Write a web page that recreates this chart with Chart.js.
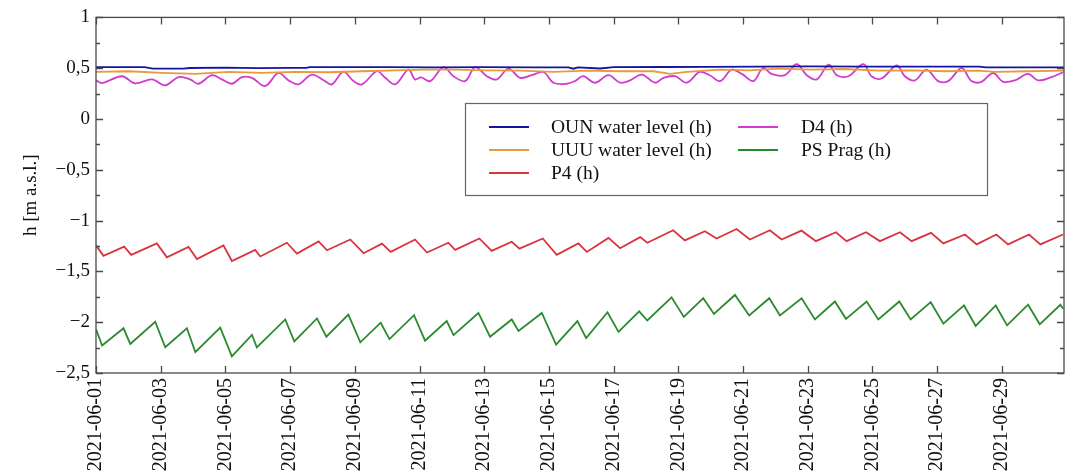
<!DOCTYPE html>
<html>
<head>
<meta charset="utf-8">
<title>Water levels, June 2021</title>
<script src="https://cdn.jsdelivr.net/npm/chart.js@4.4.1/dist/chart.umd.min.js"></script>
<style>
  html, body { margin: 0; padding: 0; background: #fff; }
  #wrap { width: 1082px; height: 473px; }
</style>
</head>
<body>
<div id="wrap"><canvas id="levels"></canvas></div>
<script>
// days since 2021-06-01 00:00 and level h [m a.s.l.] for each gauge
const startDate = Date.UTC(2021, 5, 1);
const lastDay = 29.92;

const ounDays = [0, 1.5, 1.75, 2.7, 2.9, 4, 5, 6, 6.5, 6.6, 7.5, 9, 10.5, 12, 13.5, 14.6, 14.75, 14.9, 15.58, 16, 17.5, 19, 20.5, 22, 24, 26, 27.3, 27.5, 29, 29.92];
const ounLevel = [0.511, 0.511, 0.495, 0.495, 0.502, 0.505, 0.500, 0.503, 0.503, 0.511, 0.511, 0.511, 0.509, 0.511, 0.508, 0.508, 0.495, 0.508, 0.497, 0.511, 0.512, 0.513, 0.515, 0.518, 0.515, 0.515, 0.515, 0.508, 0.508, 0.508];

const uuuDays = [0, 1.01, 2.04, 3.07, 4.1, 5.13, 6.16, 7.19, 8.22, 9.25, 10.17, 11.05, 12.08, 13.11, 14.14, 15.17, 16.2, 17.23, 17.75, 18.26, 19.29, 20.21, 21.09, 22.12, 23.15, 24.18, 25.21, 26.24, 27.27, 27.79, 28.81, 29.92];
const uuuLevel = [0.463, 0.470, 0.454, 0.444, 0.463, 0.454, 0.463, 0.460, 0.470, 0.479, 0.486, 0.486, 0.479, 0.476, 0.463, 0.476, 0.470, 0.470, 0.444, 0.463, 0.486, 0.479, 0.495, 0.486, 0.492, 0.476, 0.479, 0.470, 0.476, 0.463, 0.470, 0.476];

const p4Days = [0, 0.23, 0.87, 1.09, 1.88, 2.19, 2.86, 3.12, 3.94, 4.2, 4.92, 5.08, 5.9, 6.21, 6.88, 7.14, 7.86, 8.27, 8.84, 9.11, 9.86, 10.23, 10.89, 11.1, 11.85, 12.23, 12.85, 13.09, 13.81, 14.24, 14.91, 15.17, 15.84, 16.2, 16.82, 17.04, 17.84, 18.2, 18.82, 19.18, 19.8, 20.21, 20.83, 21.19, 21.81, 22.25, 22.87, 23.2, 23.8, 24.23, 24.85, 25.21, 25.81, 26.19, 26.86, 27.22, 27.83, 28.19, 28.84, 29.19, 29.89];
const p4Level = [-1.244, -1.347, -1.256, -1.337, -1.224, -1.362, -1.259, -1.379, -1.244, -1.398, -1.288, -1.353, -1.218, -1.324, -1.205, -1.292, -1.186, -1.321, -1.227, -1.308, -1.186, -1.314, -1.218, -1.288, -1.176, -1.298, -1.208, -1.276, -1.176, -1.337, -1.224, -1.308, -1.170, -1.272, -1.163, -1.218, -1.095, -1.195, -1.105, -1.176, -1.083, -1.186, -1.095, -1.186, -1.099, -1.202, -1.115, -1.202, -1.115, -1.202, -1.115, -1.202, -1.121, -1.224, -1.137, -1.234, -1.137, -1.234, -1.137, -1.234, -1.137];

const d4Days = [0, 0.19, 0.80, 1.21, 1.73, 2.14, 2.55, 2.91, 3.17, 3.58, 3.89, 4.2, 4.51, 4.82, 5.23, 5.64, 5.95, 6.26, 6.67, 7.08, 7.29, 7.65, 7.96, 8.22, 8.68, 8.94, 9.25, 9.66, 9.86, 10.05, 10.33, 10.74, 11.05, 11.41, 11.72, 12.08, 12.39, 12.75, 13.11, 13.52, 13.83, 14.14, 14.55, 14.8, 15.06, 15.42, 15.84, 16.2, 16.51, 16.87, 17.28, 17.54, 17.9, 18.26, 18.66, 18.97, 19.29, 19.65, 19.96, 20.32, 20.62, 20.88, 21.29, 21.66, 21.97, 22.28, 22.64, 22.9, 23.25, 23.72, 23.97, 24.28, 24.75, 25.0, 25.31, 25.67, 26.03, 26.34, 26.76, 27.06, 27.37, 27.73, 28.04, 28.4, 28.81, 29.12, 29.53, 29.89];
const d4Level = [0.380, 0.354, 0.421, 0.351, 0.390, 0.332, 0.412, 0.390, 0.347, 0.431, 0.390, 0.347, 0.412, 0.405, 0.325, 0.453, 0.380, 0.341, 0.437, 0.373, 0.341, 0.463, 0.373, 0.341, 0.470, 0.405, 0.341, 0.486, 0.390, 0.410, 0.373, 0.511, 0.421, 0.373, 0.511, 0.421, 0.390, 0.496, 0.405, 0.437, 0.463, 0.357, 0.347, 0.373, 0.421, 0.357, 0.431, 0.357, 0.380, 0.437, 0.357, 0.405, 0.421, 0.357, 0.463, 0.431, 0.373, 0.486, 0.444, 0.373, 0.502, 0.444, 0.431, 0.540, 0.431, 0.390, 0.534, 0.431, 0.421, 0.540, 0.421, 0.399, 0.528, 0.421, 0.380, 0.486, 0.373, 0.373, 0.502, 0.373, 0.366, 0.453, 0.366, 0.380, 0.444, 0.380, 0.412, 0.460];

const psDays = [0, 0.19, 0.85, 1.06, 1.83, 2.14, 2.81, 3.07, 3.84, 4.2, 4.82, 4.97, 5.85, 6.13, 6.83, 7.12, 7.8, 8.17, 8.8, 9.07, 9.83, 10.17, 10.84, 11.05, 11.82, 12.18, 12.85, 13.06, 13.78, 14.22, 14.88, 15.15, 15.81, 16.15, 16.79, 17.04, 17.79, 18.17, 18.77, 19.1, 19.75, 20.19, 20.81, 21.14, 21.81, 22.22, 22.84, 23.18, 23.82, 24.18, 24.83, 25.18, 25.8, 26.19, 26.83, 27.19, 27.81, 28.16, 28.81, 29.17, 29.81, 29.89];
const psLevel = [-2.069, -2.230, -2.060, -2.214, -1.996, -2.247, -2.060, -2.295, -2.054, -2.336, -2.124, -2.247, -1.973, -2.189, -1.963, -2.143, -1.925, -2.198, -2.005, -2.166, -1.931, -2.182, -1.989, -2.127, -1.909, -2.143, -1.973, -2.086, -1.909, -2.220, -1.989, -2.156, -1.902, -2.095, -1.893, -1.983, -1.755, -1.948, -1.764, -1.919, -1.732, -1.934, -1.764, -1.934, -1.764, -1.973, -1.796, -1.967, -1.796, -1.973, -1.796, -1.973, -1.803, -2.015, -1.835, -2.037, -1.835, -2.031, -1.828, -2.021, -1.828, -1.867];

const seriesNames = ['OUN water level (h)', 'UUU water level (h)', 'P4 (h)', 'D4 (h)', 'PS Prag (h)'];
const seriesColors = ['#14149e', '#e89a3c', '#d8343e', '#d03cd0', '#2a8a2e'];

const yTicks = [-2.5, -2, -1.5, -1, -0.5, 0, 0.5, 1];

function toPoints(days, level) {
    return days.map((d, i) => ({ x: d, y: level[i] }));
}

function dayLabel(v) {
    return new Date(startDate + v * 86400000).toISOString().slice(0, 10);
}

function levelLabel(v) {
    return String(v).replace('.', ',').replace('-', '\u2212');
}

const serif = 'Liberation Serif, Times New Roman, serif';

// frame with inward ticks on all four sides, minor ticks on the level axis
const frameTicks = {
    id: 'frameTicks',
    afterDraw(chart) {
        const { ctx, chartArea: a, scales } = chart;
        ctx.save();
        ctx.strokeStyle = '#4a4a4a';
        ctx.lineWidth = 1.3;
        ctx.strokeRect(a.left, a.top, a.right - a.left, a.bottom - a.top);
        ctx.beginPath();
        for (const t of scales.x.ticks) {
            const px = Math.round(scales.x.getPixelForValue(t.value)) + 0.5;
            ctx.moveTo(px, a.bottom); ctx.lineTo(px, a.bottom - 7);
            ctx.moveTo(px, a.top); ctx.lineTo(px, a.top + 7);
        }
        for (let v = -2.5; v <= 1.001; v += 0.25) {
            const py = Math.round(scales.y.getPixelForValue(v)) + 0.5;
            const len = Math.abs(v * 2 - Math.round(v * 2)) < 1e-6 ? 7 : 4;
            ctx.moveTo(a.left, py); ctx.lineTo(a.left + len, py);
            ctx.moveTo(a.right, py); ctx.lineTo(a.right - len, py);
        }
        ctx.stroke();
        ctx.restore();
    }
};

// two-column legend box inside the plot
const boxLegend = {
    id: 'boxLegend',
    afterDraw(chart) {
        const ctx = chart.ctx;
        const box = { x: 465, y: 103, w: 522, h: 92 };
        const cols = [{ line: 489, text: 551 }, { line: 738, text: 801 }];
        const rows = [127, 150, 173];
        ctx.save();
        ctx.fillStyle = '#fff';
        ctx.fillRect(box.x, box.y, box.w, box.h);
        ctx.strokeStyle = '#666';
        ctx.lineWidth = 1.2;
        ctx.strokeRect(box.x + 0.5, box.y + 0.5, box.w, box.h);
        ctx.font = '19.5px ' + serif;
        ctx.textBaseline = 'middle';
        chart.data.datasets.forEach((ds, i) => {
            const col = cols[Math.floor(i / 3)];
            const y = rows[i % 3];
            ctx.strokeStyle = ds.borderColor;
            ctx.lineWidth = 2;
            ctx.beginPath();
            ctx.moveTo(col.line, y);
            ctx.lineTo(col.line + 40, y);
            ctx.stroke();
            ctx.fillStyle = '#111';
            ctx.fillText(ds.label, col.text, y + 1);
        });
        ctx.restore();
    }
};

const allDays = [ounDays, uuuDays, p4Days, d4Days, psDays];
const allLevels = [ounLevel, uuuLevel, p4Level, d4Level, psLevel];

new Chart(document.getElementById('levels'), {
    type: 'line',
    data: {
        datasets: seriesNames.map((name, i) => ({
            label: name,
            data: toPoints(allDays[i], allLevels[i]),
            borderColor: seriesColors[i],
            borderWidth: 1.8,
            pointRadius: 0,
            tension: i === 3 ? 0.35 : 0
        }))
    },
    options: {
        responsive: true,
        maintainAspectRatio: false,
        animation: false,
        layout: { autoPadding: false, padding: { top: 10, right: 18, left: 0, bottom: 0 } },
        plugins: { legend: { display: false }, tooltip: { enabled: false } },
        scales: {
            x: {
                type: 'linear',
                min: 0,
                max: lastDay,
                afterFit(scale) { scale.height = 100; },
                grid: { display: false, drawTicks: false },
                border: { display: false },
                ticks: {
                    stepSize: 2,
                    includeBounds: false,
                    minRotation: 90,
                    maxRotation: 90,
                    autoSkip: false,
                    padding: 5,
                    color: '#111',
                    font: { family: serif, size: 20 },
                    callback: dayLabel
                }
            },
            y: {
                min: -2.5,
                max: 1,
                afterFit(scale) { scale.width = 96; },
                afterBuildTicks(scale) { scale.ticks = yTicks.map(v => ({ value: v })); },
                grid: { display: false, drawTicks: false },
                border: { display: false },
                title: {
                    display: true,
                    text: 'h [m a.s.l.]',
                    color: '#111',
                    font: { family: serif, size: 19 },
                    padding: { top: 20, bottom: 0 }
                },
                ticks: {
                    padding: 6,
                    color: '#111',
                    font: { family: serif, size: 19 },
                    callback: levelLabel
                }
            }
        }
    },
    plugins: [frameTicks, boxLegend]
});
</script>
</body>
</html>
